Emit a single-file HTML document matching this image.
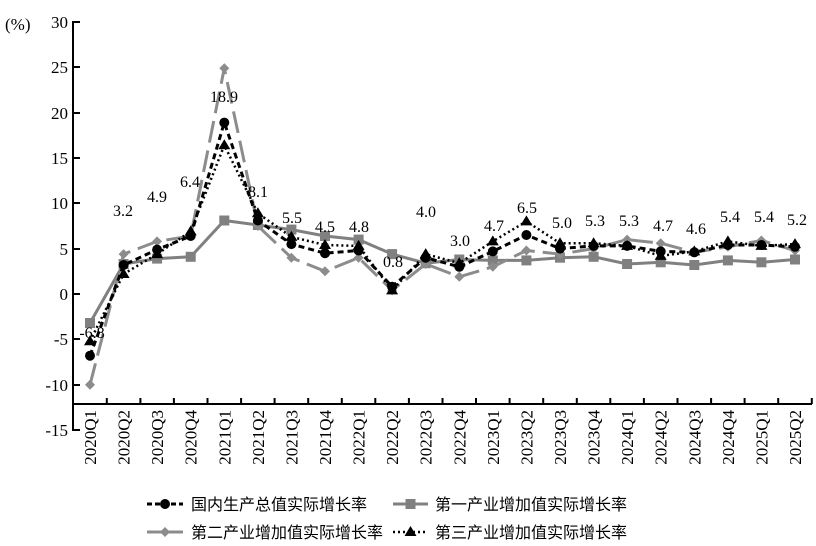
<!DOCTYPE html>
<html><head><meta charset="utf-8"><style>
html,body{margin:0;padding:0;background:#fff;}
svg{display:block;}
.t{font-size:17px;fill:#000;font-family:"Liberation Serif","Times New Roman",serif;}
.l{font-size:16px;fill:#000;text-anchor:middle;font-family:"Liberation Serif","Times New Roman",serif;}
.lg{font-size:16px;font-family:"Liberation Sans","Noto Sans CJK SC",sans-serif;fill:#000;}
</style></head><body>
<svg width="816" height="546" viewBox="0 0 816 546" xmlns="http://www.w3.org/2000/svg">
<text x="5" y="30" class="t">(%)</text>
<g text-anchor="end">
<text class="t" x="68" y="28">30</text><text class="t" x="68" y="73">25</text><text class="t" x="68" y="119">20</text>
<text class="t" x="68" y="164">15</text><text class="t" x="68" y="209">10</text><text class="t" x="68" y="255">5</text>
<text class="t" x="68" y="300">0</text><text class="t" x="68" y="345">-5</text><text class="t" x="68" y="391">-10</text>
<text class="t" x="68" y="436">-15</text>
</g>
<g stroke="#000" stroke-width="2">
<line x1="73" y1="21" x2="73" y2="431"/>
<line x1="73" y1="404" x2="812" y2="404"/>
<line x1="73" y1="22" x2="80" y2="22"/><line x1="73" y1="67" x2="80" y2="67"/>
<line x1="73" y1="113" x2="80" y2="113"/><line x1="73" y1="158" x2="80" y2="158"/>
<line x1="73" y1="203" x2="80" y2="203"/><line x1="73" y1="249" x2="80" y2="249"/>
<line x1="73" y1="294" x2="80" y2="294"/><line x1="73" y1="339" x2="80" y2="339"/>
<line x1="73" y1="385" x2="80" y2="385"/><line x1="73" y1="430" x2="80" y2="430"/>
</g>
<g stroke="#000" stroke-width="2">
<path d="M106.8 404v-6M140.4 404v-6M173.9 404v-6M207.5 404v-6M241.1 404v-6M274.6 404v-6M308.2 404v-6M341.8 404v-6M375.3 404v-6M408.9 404v-6M442.5 404v-6M476 404v-6M509.6 404v-6M543.2 404v-6M576.8 404v-6M610.3 404v-6M643.9 404v-6M677.5 404v-6M711.1 404v-6M744.6 404v-6M778.2 404v-6M811.8 404v-6"/>
</g>
<g text-anchor="end">
<text class="t" transform="translate(96,410) rotate(-90)">2020Q1</text>
<text class="t" transform="translate(129.6,410) rotate(-90)">2020Q2</text>
<text class="t" transform="translate(163.1,410) rotate(-90)">2020Q3</text>
<text class="t" transform="translate(196.7,410) rotate(-90)">2020Q4</text>
<text class="t" transform="translate(230.3,410) rotate(-90)">2021Q1</text>
<text class="t" transform="translate(263.9,410) rotate(-90)">2021Q2</text>
<text class="t" transform="translate(297.4,410) rotate(-90)">2021Q3</text>
<text class="t" transform="translate(331,410) rotate(-90)">2021Q4</text>
<text class="t" transform="translate(364.6,410) rotate(-90)">2022Q1</text>
<text class="t" transform="translate(398.1,410) rotate(-90)">2022Q2</text>
<text class="t" transform="translate(431.7,410) rotate(-90)">2022Q3</text>
<text class="t" transform="translate(465.3,410) rotate(-90)">2022Q4</text>
<text class="t" transform="translate(498.8,410) rotate(-90)">2023Q1</text>
<text class="t" transform="translate(532.4,410) rotate(-90)">2023Q2</text>
<text class="t" transform="translate(566,410) rotate(-90)">2023Q3</text>
<text class="t" transform="translate(599.6,410) rotate(-90)">2023Q4</text>
<text class="t" transform="translate(633.1,410) rotate(-90)">2024Q1</text>
<text class="t" transform="translate(666.7,410) rotate(-90)">2024Q2</text>
<text class="t" transform="translate(700.3,410) rotate(-90)">2024Q3</text>
<text class="t" transform="translate(733.9,410) rotate(-90)">2024Q4</text>
<text class="t" transform="translate(767.4,410) rotate(-90)">2025Q1</text>
<text class="t" transform="translate(801,410) rotate(-90)">2025Q2</text>
</g>
<!-- primary -->
<polyline fill="none" stroke="#808080" stroke-width="3" points="90,323 123.6,264 157.1,258.6 190.7,256.8 224.3,220.5 257.9,225 291.4,229.6 325,236 358.6,239.6 392.1,254.1 425.7,263.2 459.3,259.5 492.8,260.4 526.4,260.4 560,257.7 593.6,256.8 627.1,264 660.7,262.3 694.3,265 727.9,260.4 761.4,262.3 795,259.5"/>
<g fill="#808080">
<rect x="85" y="318" width="10" height="10"/><rect x="118.6" y="259" width="10" height="10"/><rect x="152.1" y="253.6" width="10" height="10"/><rect x="185.7" y="251.8" width="10" height="10"/><rect x="219.3" y="215.5" width="10" height="10"/><rect x="252.9" y="220" width="10" height="10"/><rect x="286.4" y="224.6" width="10" height="10"/><rect x="320" y="231" width="10" height="10"/><rect x="353.6" y="234.6" width="10" height="10"/><rect x="387.1" y="249.1" width="10" height="10"/><rect x="420.7" y="258.2" width="10" height="10"/><rect x="454.3" y="254.5" width="10" height="10"/><rect x="487.8" y="255.4" width="10" height="10"/><rect x="521.4" y="255.4" width="10" height="10"/><rect x="555" y="252.7" width="10" height="10"/><rect x="588.6" y="251.8" width="10" height="10"/><rect x="622.1" y="259" width="10" height="10"/><rect x="655.7" y="257.3" width="10" height="10"/><rect x="689.3" y="260" width="10" height="10"/><rect x="722.9" y="255.4" width="10" height="10"/><rect x="756.4" y="257.3" width="10" height="10"/><rect x="790" y="254.5" width="10" height="10"/>
</g>
<!-- secondary -->
<polyline fill="none" stroke="#8c8c8c" stroke-width="3" stroke-dasharray="22,8" points="90,384.7 123.6,254.1 157.1,241.4 190.7,236 224.3,68.2 257.9,226 291.4,257.7 325,271.3 358.6,257.7 392.1,290.4 425.7,264 459.3,276.8 492.8,266.8 526.4,250.5 560,254.1 593.6,248.6 627.1,239.6 660.7,243.2 694.3,252.3 727.9,246.8 761.4,240.5 795,250.5"/>
<g fill="#8c8c8c">
<path d="M90 379.7l5 5-5 5-5-5zM123.6 249.1l5 5-5 5-5-5zM157.1 236.4l5 5-5 5-5-5zM190.7 231l5 5-5 5-5-5zM224.3 63.2l5 5-5 5-5-5zM257.9 221l5 5-5 5-5-5zM291.4 252.7l5 5-5 5-5-5zM325 266.3l5 5-5 5-5-5zM358.6 252.7l5 5-5 5-5-5zM392.1 285.4l5 5-5 5-5-5zM425.7 259l5 5-5 5-5-5zM459.3 271.8l5 5-5 5-5-5zM492.8 261.8l5 5-5 5-5-5zM526.4 245.5l5 5-5 5-5-5zM560 249.1l5 5-5 5-5-5zM593.6 243.6l5 5-5 5-5-5zM627.1 234.6l5 5-5 5-5-5zM660.7 238.2l5 5-5 5-5-5zM694.3 247.3l5 5-5 5-5-5zM727.9 241.8l5 5-5 5-5-5zM761.4 235.5l5 5-5 5-5-5zM795 245.5l5 5-5 5-5-5z"/>
</g>
<!-- tertiary -->
<polyline fill="none" stroke="#000" stroke-width="2.5" stroke-dasharray="2,3" points="90,341.2 123.6,274 157.1,254.1 190.7,231.4 224.3,145.2 257.9,213.3 291.4,236.9 325,245 358.6,245.9 392.1,290.4 425.7,254.1 459.3,263.2 492.8,241.4 526.4,221.4 560,243.2 593.6,243.2 627.1,245.9 660.7,255.9 694.3,251.4 727.9,241.4 761.4,245.9 795,244.1"/>
<g fill="#000">
<path d="M90 335.2l6 10h-12zM123.6 268l6 10h-12zM157.1 248.1l6 10h-12zM190.7 225.4l6 10h-12zM224.3 139.2l6 10h-12zM257.9 207.3l6 10h-12zM291.4 230.9l6 10h-12zM325 239l6 10h-12zM358.6 239.9l6 10h-12zM392.1 284.4l6 10h-12zM425.7 248.1l6 10h-12zM459.3 257.2l6 10h-12zM492.8 235.4l6 10h-12zM526.4 215.4l6 10h-12zM560 237.2l6 10h-12zM593.6 237.2l6 10h-12zM627.1 239.9l6 10h-12zM660.7 249.9l6 10h-12zM694.3 245.4l6 10h-12zM727.9 235.4l6 10h-12zM761.4 239.9l6 10h-12zM795 238.1l6 10h-12z"/>
</g>
<!-- GDP -->
<polyline fill="none" stroke="#000" stroke-width="3" stroke-dasharray="6,4" points="90,355.7 123.6,265 157.1,249.6 190.7,236 224.3,122.6 257.9,220.5 291.4,244.1 325,253.2 358.6,250.5 392.1,286.7 425.7,257.7 459.3,266.8 492.8,251.4 526.4,235 560,248.6 593.6,245.9 627.1,245.9 660.7,251.4 694.3,252.3 727.9,245 761.4,245 795,246.8"/>
<g fill="#000">
<circle cx="90" cy="355.7" r="5"/><circle cx="123.6" cy="265" r="5"/><circle cx="157.1" cy="249.6" r="5"/><circle cx="190.7" cy="236" r="5"/><circle cx="224.3" cy="122.6" r="5"/><circle cx="257.9" cy="220.5" r="5"/><circle cx="291.4" cy="244.1" r="5"/><circle cx="325" cy="253.2" r="5"/><circle cx="358.6" cy="250.5" r="5"/><circle cx="392.1" cy="286.7" r="5"/><circle cx="425.7" cy="257.7" r="5"/><circle cx="459.3" cy="266.8" r="5"/><circle cx="492.8" cy="251.4" r="5"/><circle cx="526.4" cy="235" r="5"/><circle cx="560" cy="248.6" r="5"/><circle cx="593.6" cy="245.9" r="5"/><circle cx="627.1" cy="245.9" r="5"/><circle cx="660.7" cy="251.4" r="5"/><circle cx="694.3" cy="252.3" r="5"/><circle cx="727.9" cy="245" r="5"/><circle cx="761.4" cy="245" r="5"/><circle cx="795" cy="246.8" r="5"/>
</g>
<g>
<text class="l" x="92" y="338">-6.8</text><text class="l" x="123" y="216">3.2</text><text class="l" x="157" y="202">4.9</text><text class="l" x="190" y="187">6.4</text><text class="l" x="224" y="102">18.9</text><text class="l" x="258" y="197">8.1</text><text class="l" x="292" y="223">5.5</text><text class="l" x="325" y="232">4.5</text><text class="l" x="359" y="232">4.8</text><text class="l" x="393" y="267">0.8</text><text class="l" x="426" y="217">4.0</text><text class="l" x="460" y="246">3.0</text><text class="l" x="494" y="231">4.7</text><text class="l" x="527" y="213">6.5</text><text class="l" x="562" y="228">5.0</text><text class="l" x="595" y="226">5.3</text><text class="l" x="629" y="226">5.3</text><text class="l" x="663" y="231">4.7</text><text class="l" x="696" y="234">4.6</text><text class="l" x="730" y="222">5.4</text><text class="l" x="764" y="222">5.4</text><text class="l" x="797" y="225">5.2</text>
</g>
<!-- legend -->
<line x1="147" y1="504" x2="183" y2="504" stroke="#000" stroke-width="3" stroke-dasharray="5,3"/>
<circle cx="165" cy="504" r="5" fill="#000"/>
<text x="191" y="510" class="lg">国内生产总值实际增长率</text>
<line x1="393" y1="504" x2="428" y2="504" stroke="#808080" stroke-width="3"/>
<rect x="405.5" y="499" width="10" height="10" fill="#808080"/>
<text x="435" y="510" class="lg">第一产业增加值实际增长率</text>
<line x1="147" y1="532" x2="183" y2="532" stroke="#8c8c8c" stroke-width="3"/>
<path d="M165 527l5 5-5 5-5-5z" fill="#8c8c8c"/>
<text x="191" y="538" class="lg">第二产业增加值实际增长率</text>
<line x1="393" y1="532" x2="428" y2="532" stroke="#000" stroke-width="2.5" stroke-dasharray="2,3"/>
<path d="M410.5 526l6 10h-12z" fill="#000"/>
<text x="435" y="538" class="lg">第三产业增加值实际增长率</text>
</svg>
</body></html>
